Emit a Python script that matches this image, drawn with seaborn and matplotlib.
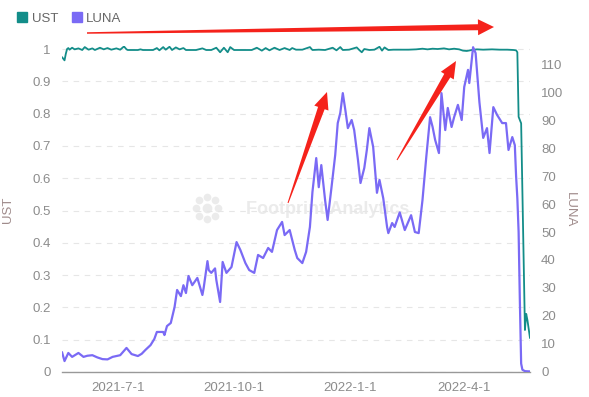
import numpy as np
import pandas as pd
import seaborn as sns
import matplotlib.pyplot as plt
from matplotlib.lines import Line2D
from matplotlib.patches import Polygon

# data (day offsets from 2021-05-18)
start_date = "2021-05-18"

luna_day = [0, 2, 5, 8, 13, 17, 20, 24, 28, 32, 36, 40, 44, 46, 51, 55, 60, 63, 66, 70,
            73, 75, 80, 81, 83, 86, 89, 91, 94, 96, 98, 100, 103, 107, 111, 112, 115, 116, 118, 121,
            122, 125, 127, 130, 134, 138, 141, 145, 148, 152, 155, 159, 163, 166, 170, 174, 176, 180, 184, 186,
            190, 193, 196, 198, 201, 203, 205, 208, 210, 213, 216, 218, 220, 222, 224, 226, 229, 231, 234, 236,
            239, 241, 243, 246, 249, 251, 254, 257, 258, 261, 263, 267, 271, 276, 279, 282, 285, 288, 291, 293,
            295, 298, 300, 303, 305, 308, 310, 313, 316, 318, 321, 322, 325, 327, 330, 333, 336, 338, 341, 344,
            348, 351, 353, 356, 358, 359, 360, 361, 362, 363, 364, 366, 370]
luna = [7.1, 3.9, 6.8, 5.4, 6.8, 5.4, 5.8, 6.0, 5.2, 4.6, 4.5, 5.4, 5.8, 6.0, 8.6, 6.4, 5.7, 6.5, 7.9, 9.6,
        11.8, 14.3, 14.3, 13.2, 16.4, 17.5, 23.2, 29.3, 27.1, 31.0, 28.2, 34.3, 31.0, 33.6, 27.5, 30.0, 39.6, 36.4, 35.4, 37.0,
        32.9, 25.0, 39.3, 35.4, 37.5, 46.4, 43.6, 38.9, 36.4, 35.4, 41.8, 40.7, 44.3, 42.9, 50.7, 53.6, 48.9, 50.7, 43.6, 40.7,
        38.9, 42.9, 51.8, 64.3, 76.4, 66.0, 73.9, 61.4, 54.3, 65.7, 77.5, 88.9, 92.5, 99.6, 93.6, 87.1, 90.0, 86.4, 75.7, 67.5,
        72.9, 79.3, 87.1, 80.4, 64.0, 68.6, 62.0, 51.8, 49.6, 53.2, 51.8, 57.0, 50.7, 56.0, 50.0, 49.6, 61.4, 76.8, 91.0, 87.5,
        82.9, 78.2, 99.6, 86.4, 94.3, 87.5, 91.0, 95.4, 90.0, 101.8, 107.9, 103.2, 116.0, 113.9, 96.4, 83.6, 87.1, 78.2, 94.6, 91.8,
        88.9, 88.9, 79.3, 83.9, 81.0, 70.0, 62.0, 50.0, 25.0, 3.0, 0.8, 0.3, 0.2]

ust_day = [0, 2, 3, 4, 5, 6, 8, 10, 13, 16, 18, 21, 24, 26, 30, 33, 36, 39, 43, 46,
           49, 51, 52, 56, 60, 62, 64, 68, 72, 75, 77, 80, 82, 85, 87, 90, 93, 96, 98, 102,
           106, 111, 114, 118, 122, 125, 128, 131, 133, 136, 140, 145, 150, 154, 158, 161, 164, 168, 172, 176,
           180, 182, 185, 190, 196, 198, 203, 208, 214, 217, 220, 222, 227, 233, 235, 237, 239, 243, 247,
           251, 253, 255, 258, 262, 268, 274, 280, 285, 289, 293, 297, 302, 306, 310, 314, 317, 320, 324, 328,
           333, 340, 346, 352, 357, 359, 360, 361, 362, 363, 366, 367, 368, 370]
ust = [0.975, 0.965, 0.985, 1.0, 1.003, 0.998, 1.004, 0.999, 1.002, 0.997, 1.006, 0.998, 1.002, 0.997, 1.004, 0.999, 1.003, 0.998, 1.002, 0.998,
       1.008, 0.999, 0.997, 0.997, 0.997, 0.999, 0.997, 0.997, 0.997, 1.003, 0.996, 1.006, 0.998, 1.007, 0.997, 1.005, 0.999, 1.003, 0.997, 0.997,
       0.997, 1.002, 0.997, 0.997, 1.004, 0.99, 1.004, 0.99, 1.006, 0.997, 0.997, 0.997, 0.997, 1.004, 0.995, 1.003, 0.996, 1.004, 0.997, 1.003,
       0.997, 1.003, 0.998, 0.998, 1.006, 0.997, 0.998, 0.997, 1.004, 0.996, 1.006, 0.997, 0.998, 1.005, 0.997, 0.99, 1.0, 0.997, 0.998,
       1.007, 0.995, 1.005, 0.997, 0.998, 0.998, 0.998, 0.999, 1.001, 0.999, 1.001, 1.0, 1.002, 0.999, 1.001, 0.999, 0.995, 0.994, 0.997, 0.999,
       0.998, 0.999, 0.998, 0.998, 0.997, 0.996, 0.99, 0.79, 0.78, 0.77, 0.13, 0.18, 0.16, 0.105]

tick_dates = ["2021-07-01", "2021-10-01", "2022-01-01", "2022-04-01"]
tick_labels = ["2021-7-1", "2021-10-1", "2022-1-1", "2022-4-1"]
ust_ticks = [0, 0.1, 0.2, 0.3, 0.4, 0.5, 0.6, 0.7, 0.8, 0.9, 1]
luna_ticks = [0, 10, 20, 30, 40, 50, 60, 70, 80, 90, 100, 110]

ust_color = "#138d89"
luna_color = "#7a6af5"
text_color = "#8c8c8c"

start = pd.Timestamp(start_date)
df_ust = pd.DataFrame({"date": start + pd.to_timedelta(ust_day, unit="D"), "UST": ust})
df_luna = pd.DataFrame({"date": start + pd.to_timedelta(luna_day, unit="D"), "LUNA": luna})

sns.set_style("white")
plt.rcParams["font.family"] = ["Liberation Sans", "DejaVu Sans"]

W, H = 589, 397
fig = plt.figure(figsize=(W / 100, H / 100), dpi=100)
ax = fig.add_axes([62 / W, 1 - 372 / H, 468 / W, 326.2 / H])
ax2 = ax.twinx()

# watermark behind the lines
ax.text(0.568, 0.497, "Footprint Analytics", transform=ax.transAxes, ha="center", va="center",
        fontsize=13, fontweight="bold", color="#ebebeb", zorder=0)
ang = np.linspace(0, 2 * np.pi, 9)[:-1]
lx = (207 - 62) / 468 + 11 / 468 * np.cos(ang)
ly = (372 - 208) / 326.2 + 11 / 326.2 * np.sin(ang)
ax.plot(lx, ly, "o", ms=4.5, color="#ebebeb", transform=ax.transAxes, zorder=0)
ax.plot([(207 - 62) / 468], [(372 - 208) / 326.2], "o", ms=6, color="#ebebeb",
        transform=ax.transAxes, zorder=0)

sns.lineplot(data=df_ust, x="date", y="UST", ax=ax, color=ust_color, lw=1.3)
sns.lineplot(data=df_luna, x="date", y="LUNA", ax=ax2, color=luna_color, lw=1.6)

x0, x1 = start, start + pd.Timedelta(days=370)
ax.set_xlim(x0, x1)
ax.set_ylim(0, 1.01)
ax2.set_ylim(0, 116.5)

ax.set_xticks(pd.to_datetime(tick_dates))
ax.set_xticklabels(tick_labels)
ax.set_xticks([x0, x1], minor=True)
ax.set_yticks(ust_ticks)
ax.set_yticklabels([f"{v:g}" for v in ust_ticks])
ax2.set_yticks(luna_ticks)

ax.tick_params(axis="x", which="major", length=0, pad=7, labelsize=9.5, labelcolor=text_color)
ax.tick_params(axis="x", which="minor", length=5, width=1, color="#999999")
ax.tick_params(axis="y", length=0, pad=8, labelsize=9.5, labelcolor=text_color)
ax2.tick_params(axis="y", length=0, pad=8, labelsize=9.5, labelcolor=text_color)

ax.yaxis.grid(True, linestyle=(0, (5, 5)), color="#e6e6e6", lw=0.8)
ax.set_axisbelow(True)

for s in ["top", "left", "right"]:
    ax.spines[s].set_visible(False)
for s in ax2.spines:
    ax2.spines[s].set_visible(False)
ax.spines["bottom"].set_color("#999999")
ax.spines["bottom"].set_linewidth(1)

ax.set_xlabel("")
ax.set_ylabel("UST", fontsize=9.5, color="#a08c8c")
ax.yaxis.set_label_coords(-0.103, 0.497)
ax2.set_ylabel("LUNA", fontsize=9.5, color="#a08c8c", rotation=270, va="center")
ax2.yaxis.set_label_coords(1.085, 0.497)

handles = [Line2D([], [], marker="s", ls="", color=ust_color, markersize=7, label="UST"),
           Line2D([], [], marker="s", ls="", color=luna_color, markersize=7, label="LUNA")]
fig.legend(handles=handles, loc="upper left", bbox_to_anchor=(4 / W, 1 - 1 / H), ncol=2,
           frameon=False, handletextpad=0.2, columnspacing=0.9, fontsize=9.5,
           labelcolor="#666666", handlelength=1.0)


def red_arrow(tail, tip, w0, w1, hw, hl):
    p0, p1 = np.array(tail, float), np.array(tip, float)
    u = (p1 - p0) / np.linalg.norm(p1 - p0)
    n = np.array([-u[1], u[0]])
    neck = p1 - u * hl
    pts = [p0 + n * w0 / 2, neck + n * w1 / 2, neck + n * hw / 2, p1,
           neck - n * hw / 2, neck - n * w1 / 2, p0 - n * w0 / 2]
    pts = [(x / W, 1 - y / H) for x, y in pts]
    fig.add_artist(Polygon(pts, closed=True, color="#f5221b", lw=0, transform=fig.transFigure))


red_arrow((87, 33), (494, 27), 1.5, 6, 16, 16)
red_arrow((288, 203), (327, 92), 1.0, 7, 15, 17)
red_arrow((397, 160), (456, 61), 1.0, 7, 15, 17)

fig.savefig("out.png", dpi=100)
